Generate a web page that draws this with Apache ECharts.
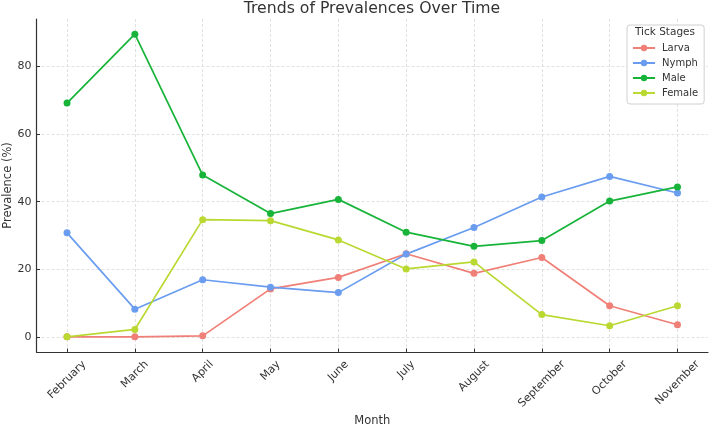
<!DOCTYPE html>
<html>
	<head>
		<meta charset="UTF-8">
		<title>Trends of Prevalences Over Time</title>
		<style>
			*{
				padding:0;
				margin:0;
			}
			body{
				background:#fff;
			}
			#chart{
				width:709px;
				height:426px;
			}
		</style>
	</head>
	<body>
		<div id="chart"></div>
		<script src="https://cdn.jsdelivr.net/npm/echarts@6.0.0/dist/echarts.min.js"></script>
		<script>
			var months=["February","March","April","May","June","July","August","September","October","November"];
			var larva=[0,0,0.3,14.2,17.6,24.6,18.8,23.5,9.2,3.6];
			var nymph=[30.8,8.2,16.9,14.7,13.1,24.5,32.4,41.4,47.5,42.6];
			var male=[69.2,89.6,47.9,36.5,40.7,31.0,26.8,28.5,40.2,44.4];
			var female=[0,2.2,34.7,34.4,28.7,20.1,22.2,6.6,3.3,9.2];
			var yTicks=[0,20,40,60,80];
			var stageNames=["Larva","Nymph","Male","Female"];
			var stageColors=["#f08077","#6a9cf0","#18b43a","#b9d932"];

			var font="DejaVu Sans";
			var textColor="#333";

			// tick labels are centred under the tick like matplotlib's rotation=45
			var ctx=document.createElement("canvas").getContext("2d");
			ctx.font='11px "'+font+'"';
			var rich={};
			var xIdx=[];
			for(var i=0;i<months.length;i++){
				var w=ctx.measureText(months[i]).width;
				rich["m"+i]={
					fontSize:11,
					fontFamily:font,
					color:textColor,
					padding:[w/2,w/2,0,0]
				};
				xIdx.push(i);
			}

			function pairs(arr){
				return arr.map(function(v,i){return [i,v];});
			}

			var stageData=[larva,nymph,male,female];
			var series=[];
			for(var k=0;k<stageNames.length;k++){
				series.push({
					name:stageNames[k],
					type:"line",
					data:pairs(stageData[k]),
					symbol:"circle",
					symbolSize:7,
					color:stageColors[k],
					lineStyle:{width:1.7,color:stageColors[k]},
					itemStyle:{color:stageColors[k]},
					emphasis:{disabled:true}
				});
			}

			var gridLine={
				show:true,
				lineStyle:{color:"#d9d9d9",width:0.8,type:[3,2]}
			};

			var chart=echarts.init(document.getElementById("chart"));
			var option={
				animation:false,
				backgroundColor:"#fff",
				title:[
					{
						text:"Trends of Prevalences Over Time",
						left:372,
						top:1,
						padding:0,
						textAlign:"center",
						textStyle:{fontFamily:font,fontSize:15.7,fontWeight:"normal",color:textColor}
					},
					{
						text:"Tick Stages",
						left:665,
						top:27,
						padding:0,
						textAlign:"center",
						textStyle:{fontFamily:font,fontSize:10.5,fontWeight:"normal",color:textColor}
					}
				],
				legend:{
					orient:"vertical",
					left:627,
					top:25,
					padding:[17,6,5,5],
					itemWidth:22,
					itemHeight:8,
					itemGap:3,
					backgroundColor:"#fff",
					borderColor:"#d0d0d0",
					borderWidth:1,
					borderRadius:3,
					textStyle:{fontFamily:font,fontSize:10,lineHeight:12,color:textColor,padding:[0,0,0,2]},
					data:stageNames
				},
				grid:{
					left:36.5,
					right:1,
					top:19,
					bottom:74,
					containLabel:false,
					outerBoundsMode:"none"
				},
				xAxis:{
					type:"value",
					min:-0.45,
					max:9.45,
					name:"Month",
					nameLocation:"middle",
					nameGap:63,
					nameMoveOverlap:false,
					nameTextStyle:{fontFamily:font,fontSize:11.5,color:textColor},
					axisLine:{show:true,onZero:false,lineStyle:{color:"#333",width:1.2}},
					axisTick:{show:true,inside:true,length:3.5,customValues:xIdx,lineStyle:{color:"#333"}},
					axisLabel:{
						customValues:xIdx,
						rotate:45,
						margin:10.6,
						align:"center",
						verticalAlign:"middle",
						hideOverlap:false,
						formatter:function(v){
							return "{m"+v+"|"+months[v]+"}";
						},
						rich:rich
					},
					splitLine:gridLine
				},
				yAxis:{
					type:"value",
					min:-4.48,
					max:94.1,
					name:"Prevalence (%)",
					nameLocation:"middle",
					nameGap:22.5,
					nameMoveOverlap:false,
					nameTextStyle:{fontFamily:font,fontSize:11.5,color:textColor},
					axisLine:{show:true,onZero:false,lineStyle:{color:"#333",width:1.2}},
					axisTick:{show:true,inside:true,length:3.5,customValues:yTicks,lineStyle:{color:"#333"}},
					axisLabel:{
						customValues:yTicks,
						margin:5,
						fontFamily:font,
						fontSize:11,
						color:textColor
					},
					splitLine:gridLine
				},
				series:series
			};
			chart.setOption(option);
		</script>
	</body>
</html>
